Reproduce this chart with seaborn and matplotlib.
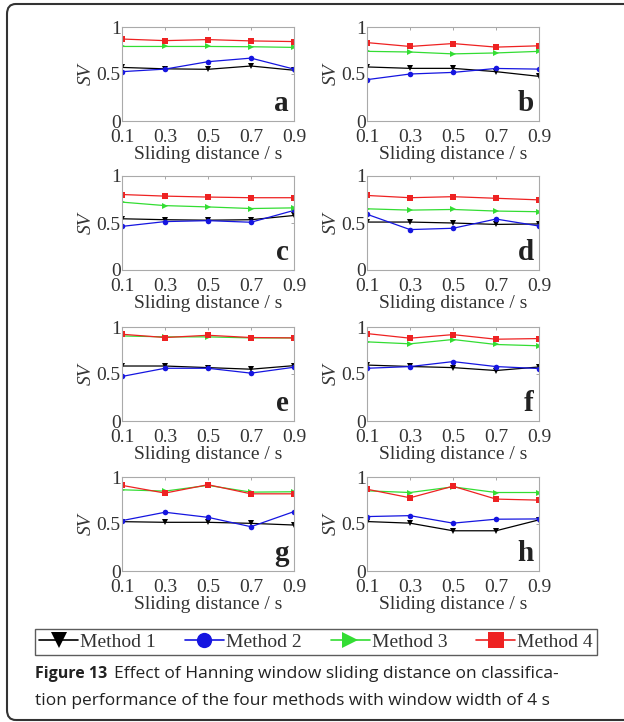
import numpy as np
import pandas as pd
import matplotlib.pyplot as plt
import seaborn as sns
from matplotlib.patches import FancyBboxPatch
from matplotlib.lines import Line2D
from matplotlib.text import Annotation

# Données
distance = [0.1, 0.3, 0.5, 0.7, 0.9]
methods = ["Method 1", "Method 2", "Method 3", "Method 4"]
panels = ["a", "b", "c", "d", "e", "f", "g", "h"]

sv_method1 = {
    "a": [0.57, 0.555, 0.55, 0.585, 0.54],
    "b": [0.575, 0.56, 0.56, 0.525, 0.475],
    "c": [0.545, 0.535, 0.53, 0.535, 0.58],
    "d": [0.51, 0.51, 0.50, 0.485, 0.49],
    "e": [0.585, 0.585, 0.568, 0.551, 0.589],
    "f": [0.595, 0.58, 0.568, 0.537, 0.575],
    "g": [0.525, 0.518, 0.518, 0.507, 0.489],
    "h": [0.526, 0.509, 0.428, 0.428, 0.544],
}
sv_method2 = {
    "a": [0.525, 0.552, 0.631, 0.669, 0.552],
    "b": [0.44, 0.50, 0.517, 0.559, 0.552],
    "c": [0.464, 0.515, 0.525, 0.508, 0.634],
    "d": [0.593, 0.43, 0.444, 0.542, 0.468],
    "e": [0.474, 0.561, 0.561, 0.509, 0.572],
    "f": [0.561, 0.579, 0.632, 0.579, 0.558],
    "g": [0.536, 0.625, 0.571, 0.471, 0.632],
    "h": [0.579, 0.589, 0.509, 0.551, 0.554],
}
sv_method3 = {
    "a": [0.793, 0.793, 0.793, 0.79, 0.783],
    "b": [0.741, 0.734, 0.714, 0.724, 0.741],
    "c": [0.722, 0.685, 0.671, 0.654, 0.661],
    "d": [0.651, 0.637, 0.644, 0.627, 0.62],
    "e": [0.905, 0.895, 0.895, 0.884, 0.884],
    "f": [0.842, 0.821, 0.867, 0.814, 0.80],
    "g": [0.864, 0.85, 0.911, 0.839, 0.843],
    "h": [0.853, 0.835, 0.895, 0.835, 0.835],
}
sv_method4 = {
    "a": [0.872, 0.855, 0.866, 0.852, 0.845],
    "b": [0.834, 0.793, 0.824, 0.786, 0.80],
    "c": [0.803, 0.786, 0.776, 0.769, 0.769],
    "d": [0.793, 0.769, 0.78, 0.763, 0.746],
    "e": [0.923, 0.888, 0.912, 0.888, 0.884],
    "f": [0.93, 0.881, 0.919, 0.87, 0.877],
    "g": [0.911, 0.829, 0.918, 0.821, 0.821],
    "h": [0.87, 0.779, 0.902, 0.765, 0.754],
}

colors = {"Method 1": "black", "Method 2": "#1515e0", "Method 3": "#33dd33", "Method 4": "#ee2222"}
markers = {"Method 1": "v", "Method 2": "o", "Method 3": ">", "Method 4": "s"}

# Tableau long
rows = []
for p in panels:
    for m, src in zip(methods, [sv_method1, sv_method2, sv_method3, sv_method4]):
        for x, y in zip(distance, src[p]):
            rows.append({"panel": p, "method": m, "distance": x, "SV": y})
df = pd.DataFrame(rows)

sns.set_style("white")
plt.rcParams["font.family"] = ["Liberation Serif", "DejaVu Serif"]

fig = plt.figure(figsize=(6.24, 7.22), dpi=100)

# Cadre arrondi
frame = FancyBboxPatch((7 / 624, 2 / 722), 640 / 624, 716 / 722,
                       boxstyle="round,pad=0,rounding_size=0.014",
                       transform=fig.transFigure, fill=False,
                       edgecolor="#333333", linewidth=1.5, clip_on=False)
fig.patches.append(frame)

lefts = [122, 367]
tops = [27, 176, 327, 477]
w, h = 172, 94

for i, p in enumerate(panels):
    col = i % 2
    row = i // 2
    ax = fig.add_axes([lefts[col] / 624, 1 - (tops[row] + h) / 722, w / 624, h / 722])
    sns.lineplot(data=df[df["panel"] == p], x="distance", y="SV", hue="method",
                 style="method", markers=markers, dashes=False, palette=colors,
                 markersize=4, linewidth=0.9, markeredgewidth=0, legend=False, ax=ax)
    ax.set_xlim(0.1, 0.9)
    ax.set_ylim(0, 1)
    ax.set_xticks(distance)
    ax.set_xticklabels(["0.1", "0.3", "0.5", "0.7", "0.9"])
    ax.set_yticks([0, 0.5, 1])
    ax.set_yticklabels(["0", "0.5", "1"])
    ax.tick_params(direction="in", length=2, width=0.6, color="#999999",
                   labelsize=14, labelcolor="#333333", top=True, right=True)
    ax.tick_params(axis="x", pad=6)
    ax.tick_params(axis="y", pad=1)
    for s in ax.spines.values():
        s.set_color("#aaaaaa")
        s.set_linewidth(0.8)
    ax.set_xlabel("Sliding distance / s", fontsize=14, color="#333333", labelpad=0)
    ax.set_ylabel("SV", fontsize=14, style="italic", color="#333333", labelpad=1)
    ax.text(0.97, 0.04, p, transform=ax.transAxes, ha="right", va="bottom",
            fontsize=21, fontweight="bold", color="#222222")

# Légende commune
handles = [Line2D([], [], color=colors[m], marker=markers[m], markersize=11,
                  linewidth=1.2, markeredgewidth=0) for m in methods]
leg = fig.legend(handles, methods, loc="center", bbox_to_anchor=(316 / 624, 1 - 642 / 722),
                 ncol=4, fontsize=14, frameon=True, fancybox=False, handlelength=2.0,
                 handletextpad=0.1, columnspacing=1.5, borderpad=0.2, borderaxespad=0)
leg.get_frame().set_edgecolor("#333333")
leg.get_frame().set_linewidth(1.0)
for t in leg.get_texts():
    t.set_color("#333333")

# Légende de la figure
t1 = fig.text(35 / 624, 1 - 674 / 722, "Figure 13", fontsize=11.5, fontweight="bold",
              family="Open Sans", color="#222222", va="center")
ann = Annotation("Effect of Hanning window sliding distance on classifica-",
                 xy=(1, 0.5), xycoords=t1, xytext=(5, 0), textcoords="offset points",
                 fontsize=12.5, family="Open Sans", color="#222222", va="center")
fig.add_artist(ann)
fig.text(35 / 624, 1 - 701 / 722,
         "tion performance of the four methods with window width of 4 s",
         fontsize=12.5, family="Open Sans", color="#222222", va="center")

plt.savefig("out.png", dpi=100)
